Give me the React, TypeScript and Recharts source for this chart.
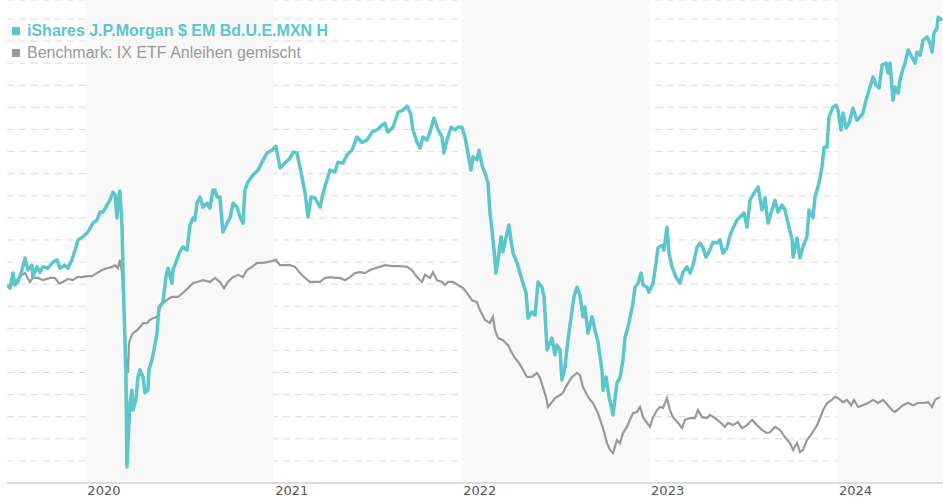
import React from 'react';
import {
  LineChart,
  Line,
  XAxis,
  YAxis,
  CartesianGrid,
  ReferenceArea,
} from 'recharts';

// Performance in % since start, dates as decimal years
const fundDates = [
  2019.583, 2019.599, 2019.615, 2019.625, 2019.641, 2019.663, 2019.679, 2019.695, 2019.716, 2019.721,
  2019.742, 2019.758, 2019.774, 2019.801, 2019.828, 2019.849, 2019.865, 2019.891, 2019.907, 2019.929,
  2019.945, 2019.961, 2019.987, 2020.014, 2020.04, 2020.062, 2020.078, 2020.094, 2020.115, 2020.131,
  2020.147, 2020.158, 2020.168, 2020.173, 2020.184, 2020.195, 2020.205, 2020.216, 2020.221, 2020.237,
  2020.248, 2020.253, 2020.269, 2020.28, 2020.291, 2020.307, 2020.317, 2020.333, 2020.338, 2020.354,
  2020.365, 2020.381, 2020.392, 2020.413, 2020.429, 2020.44, 2020.461, 2020.466, 2020.487, 2020.503,
  2020.519, 2020.541, 2020.557, 2020.573, 2020.583, 2020.594, 2020.61, 2020.626, 2020.647, 2020.663,
  2020.679, 2020.69, 2020.7, 2020.716, 2020.732, 2020.754, 2020.77, 2020.786, 2020.807, 2020.823,
  2020.839, 2020.849, 2020.865, 2020.892, 2020.919, 2020.94, 2020.967, 2020.993, 2021.014, 2021.036,
  2021.062, 2021.089, 2021.105, 2021.126, 2021.153, 2021.169, 2021.185, 2021.201, 2021.222, 2021.249,
  2021.265, 2021.286, 2021.302, 2021.328, 2021.344, 2021.371, 2021.392, 2021.419, 2021.445, 2021.472,
  2021.499, 2021.525, 2021.552, 2021.579, 2021.594, 2021.61, 2021.637, 2021.664, 2021.69, 2021.712,
  2021.733, 2021.743, 2021.765, 2021.781, 2021.797, 2021.818, 2021.834, 2021.855, 2021.877, 2021.898,
  2021.908, 2021.924, 2021.946, 2021.967, 2021.983, 2022.004, 2022.02, 2022.036, 2022.052, 2022.063,
  2022.084, 2022.095, 2022.111, 2022.127, 2022.143, 2022.153, 2022.164, 2022.175, 2022.185, 2022.196,
  2022.212, 2022.222, 2022.244, 2022.254, 2022.265, 2022.276, 2022.297, 2022.313, 2022.329, 2022.345,
  2022.356, 2022.377, 2022.393, 2022.409, 2022.43, 2022.441, 2022.457, 2022.473, 2022.483, 2022.499,
  2022.51, 2022.526, 2022.536, 2022.552, 2022.568, 2022.59, 2022.6, 2022.616, 2022.632, 2022.648,
  2022.659, 2022.675, 2022.696, 2022.712, 2022.728, 2022.749, 2022.755, 2022.771, 2022.787, 2022.808,
  2022.829, 2022.845, 2022.861, 2022.872, 2022.888, 2022.904, 2022.914, 2022.925, 2022.941, 2022.957,
  2022.968, 2022.989, 2022.999, 2023.021, 2023.037, 2023.047, 2023.069, 2023.079, 2023.095, 2023.106,
  2023.122, 2023.143, 2023.164, 2023.18, 2023.202, 2023.218, 2023.234, 2023.255, 2023.271, 2023.287,
  2023.303, 2023.319, 2023.34, 2023.361, 2023.377, 2023.393, 2023.415, 2023.431, 2023.447, 2023.468,
  2023.484, 2023.505, 2023.521, 2023.537, 2023.558, 2023.58, 2023.601, 2023.617, 2023.633, 2023.654,
  2023.67, 2023.686, 2023.707, 2023.723, 2023.739, 2023.761, 2023.766, 2023.787, 2023.803, 2023.819,
  2023.84, 2023.851, 2023.872, 2023.883, 2023.904, 2023.92, 2023.931, 2023.947, 2023.957, 2023.979,
  2023.995, 2024.005, 2024.021, 2024.032, 2024.048, 2024.064, 2024.085, 2024.106, 2024.122, 2024.138,
  2024.154, 2024.17, 2024.192, 2024.208, 2024.224, 2024.24, 2024.261, 2024.271, 2024.282, 2024.298,
  2024.309, 2024.325, 2024.335, 2024.346, 2024.362, 2024.378, 2024.399, 2024.415, 2024.426, 2024.442,
  2024.458, 2024.479, 2024.495, 2024.506, 2024.516, 2024.532, 2024.538, 2024.559,
];

const fundValues = [
  -0.2, -0.9, 2.5, -0.2, 0.5, 3.2, 5.9, 3.2, 4.3, 1.6,
  3.9, 2.7, 3.9, 3.6, 5.0, 5.5, 3.6, 4.3, 3.6, 5.5,
  7.7, 10.0, 10.7, 11.8, 13.8, 14.5, 16.3, 16.3, 17.9, 19.0,
  20.8, 20.2, 15.0, 18.6, 21.1, 12.9, -4.3, -21.0, -41.4, -26.9,
  -24.0, -28.5, -26.2, -21.0, -19.4, -21.0, -24.6, -24.0, -19.4, -17.2,
  -14.9, -11.1, -5.2, -4.1, 1.6, 3.6, 0.2, 3.2, 5.5, 7.3,
  8.4, 7.7, 13.4, 15.0, 14.5, 18.3, 19.7, 17.4, 18.3, 17.2,
  21.3, 21.3, 19.7, 19.7, 11.8, 13.8, 15.0, 18.3, 17.4, 15.2,
  13.8, 21.3, 23.1, 24.7, 25.8, 27.6, 29.7, 30.3, 31.2, 26.3,
  27.4, 28.5, 29.9, 29.7, 24.2, 20.6, 15.2, 19.7, 19.5, 17.4,
  20.6, 23.6, 25.8, 25.4, 27.6, 27.4, 29.2, 30.3, 33.3, 32.1,
  32.6, 34.4, 34.9, 36.0, 36.4, 34.4, 35.5, 38.9, 39.4, 40.3,
  38.3, 34.9, 32.1, 30.8, 33.3, 32.6, 34.4, 37.6, 34.9, 33.3,
  29.7, 32.6, 35.5, 34.9, 35.5, 35.5, 33.3, 29.7, 25.8, 28.8,
  28.1, 30.3, 26.9, 25.1, 22.9, 16.1, 12.2, 7.7, 2.5, 5.5,
  10.7, 7.3, 11.6, 13.4, 10.0, 7.0, 4.8, 2.5, 0.2, -2.0,
  -7.7, -6.3, -7.0, 0.5, -0.7, -2.9, -14.9, -13.3, -12.2, -16.0,
  -13.8, -14.9, -21.7, -18.8, -12.7, -5.9, -2.9, -0.7, -2.5, -7.4,
  -5.2, -11.1, -7.4, -10.4, -13.1, -19.4, -24.0, -21.0, -25.5, -29.6,
  -22.4, -21.2, -17.2, -12.0, -9.7, -6.5, -4.3, -0.7, 0.2, 2.5,
  -0.2, -0.7, -1.8, 0.2, 4.8, 8.2, 8.8, 7.7, 12.9, 7.0,
  3.9, 1.6, 0.2, 2.7, 3.9, 2.5, 4.3, 8.4, 9.3, 8.2,
  6.1, 7.3, 9.5, 9.3, 10.0, 7.0, 8.2, 11.1, 12.7, 14.5,
  15.2, 16.1, 12.9, 19.0, 20.6, 22.0, 16.8, 19.5, 13.8, 16.8,
  19.0, 16.3, 17.9, 16.8, 13.8, 10.0, 6.1, 10.4, 5.9, 8.4,
  10.7, 16.8, 15.0, 19.7, 22.9, 26.5, 31.0, 31.0, 37.8, 40.1,
  40.5, 39.4, 34.9, 38.7, 35.3, 36.4, 39.8, 37.1, 37.8, 38.7,
  41.6, 43.9, 46.9, 45.0, 44.4, 49.6, 50.0, 47.8, 50.0, 41.6,
  44.6, 43.2, 46.2, 48.0, 50.0, 53.0, 51.4, 50.0, 52.5, 51.8,
  55.2, 55.9, 54.5, 52.5, 56.8, 57.9, 60.4, 59.7,
];

const benchDates = [
  2019.583, 2019.609, 2019.636, 2019.663, 2019.679, 2019.705, 2019.721, 2019.748, 2019.774, 2019.812,
  2019.838, 2019.86, 2019.881, 2019.907, 2019.934, 2019.955, 2019.982, 2020.009, 2020.035, 2020.062,
  2020.088, 2020.115, 2020.142, 2020.158, 2020.173, 2020.184, 2020.195, 2020.205, 2020.216, 2020.227,
  2020.232, 2020.243, 2020.253, 2020.275, 2020.291, 2020.307, 2020.328, 2020.344, 2020.36, 2020.381,
  2020.397, 2020.413, 2020.434, 2020.45, 2020.466, 2020.493, 2020.519, 2020.546, 2020.573, 2020.594,
  2020.626, 2020.663, 2020.69, 2020.716, 2020.738, 2020.759, 2020.786, 2020.812, 2020.839, 2020.86,
  2020.887, 2020.913, 2020.94, 2020.967, 2020.993, 2021.014, 2021.036, 2021.062, 2021.089, 2021.116,
  2021.142, 2021.169, 2021.195, 2021.222, 2021.249, 2021.275, 2021.302, 2021.328, 2021.355, 2021.382,
  2021.408, 2021.435, 2021.461, 2021.488, 2021.515, 2021.541, 2021.568, 2021.594, 2021.637, 2021.674,
  2021.712, 2021.738, 2021.765, 2021.791, 2021.807, 2021.834, 2021.85, 2021.871, 2021.898, 2021.914,
  2021.93, 2021.956, 2021.983, 2022.01, 2022.031, 2022.057, 2022.084, 2022.1, 2022.127, 2022.153,
  2022.169, 2022.18, 2022.196, 2022.222, 2022.249, 2022.27, 2022.286, 2022.308, 2022.329, 2022.35,
  2022.377, 2022.403, 2022.419, 2022.435, 2022.451, 2022.462, 2022.483, 2022.499, 2022.526, 2022.542,
  2022.563, 2022.59, 2022.616, 2022.632, 2022.648, 2022.675, 2022.701, 2022.728, 2022.755, 2022.776,
  2022.792, 2022.808, 2022.829, 2022.845, 2022.861, 2022.882, 2022.898, 2022.914, 2022.936, 2022.952,
  2022.968, 2022.989, 2023.005, 2023.021, 2023.042, 2023.058, 2023.074, 2023.095, 2023.111, 2023.127,
  2023.154, 2023.175, 2023.191, 2023.218, 2023.244, 2023.26, 2023.282, 2023.308, 2023.324, 2023.351,
  2023.377, 2023.404, 2023.42, 2023.447, 2023.473, 2023.494, 2023.521, 2023.548, 2023.574, 2023.601,
  2023.627, 2023.643, 2023.67, 2023.697, 2023.723, 2023.75, 2023.766, 2023.787, 2023.803, 2023.819,
  2023.84, 2023.867, 2023.894, 2023.91, 2023.926, 2023.947, 2023.973, 2023.989, 2024.005, 2024.032,
  2024.053, 2024.075, 2024.09, 2024.112, 2024.138, 2024.165, 2024.192, 2024.218, 2024.245, 2024.271,
  2024.293, 2024.309, 2024.335, 2024.351, 2024.378, 2024.405, 2024.431, 2024.458, 2024.484, 2024.506,
  2024.522, 2024.548,
];

const benchValues = [
  -0.7, -0.2, 0.9, 2.1, 2.5, 0.5, 1.4, 1.4, 0.9, 1.4,
  1.4, 0.2, 0.5, 1.2, 0.9, 1.6, 1.6, 1.8, 1.8, 2.5,
  3.2, 3.6, 3.9, 4.3, 3.6, 5.5, 2.5, -5.9, -16.5, -20.1,
  -13.3, -12.0, -11.1, -10.4, -9.7, -8.8, -8.8, -8.1, -7.7, -7.4,
  -5.4, -4.3, -3.6, -3.1, -2.9, -2.9, -2.0, -0.9, 0.2, 0.5,
  0.9, 0.5, 1.4, 0.5, -0.9, 0.5, 1.6, 2.1, 1.6, 3.2,
  3.9, 4.8, 4.8, 5.0, 5.2, 5.5, 4.3, 4.3, 4.3, 3.9,
  2.5, 1.4, 0.5, 0.5, 0.5, 1.4, 1.6, 1.4, 1.4, 0.9,
  1.6, 2.5, 2.7, 2.5, 3.2, 3.6, 3.9, 4.3, 4.1, 4.1,
  3.9, 3.2, 1.6, 0.5, 2.1, 1.4, 2.7, 0.9, 0.5, -0.2,
  0.5, 0.5, -0.2, -0.9, -2.0, -3.6, -4.1, -5.9, -8.1, -8.8,
  -7.4, -10.4, -12.2, -12.7, -13.8, -15.6, -16.7, -17.9, -19.4, -21.0,
  -21.0, -20.1, -21.2, -23.3, -25.5, -27.8, -26.7, -25.8, -25.1, -24.6,
  -22.8, -21.0, -20.1, -20.6, -23.3, -25.5, -26.9, -29.2, -32.6, -36.0,
  -37.5, -38.2, -35.3, -36.0, -33.7, -32.3, -30.7, -29.2, -28.9, -27.8,
  -30.1, -31.4, -32.3, -30.1, -28.5, -27.8, -28.0, -25.8, -28.5, -30.1,
  -31.4, -32.6, -30.7, -30.3, -30.3, -28.5, -30.1, -30.3, -29.6, -30.3,
  -31.2, -32.3, -31.4, -31.9, -31.2, -32.6, -31.9, -30.7, -31.9, -33.0,
  -33.7, -33.5, -32.3, -33.0, -34.6, -36.0, -37.5, -36.0, -38.0, -37.5,
  -35.3, -33.7, -31.9, -30.3, -28.5, -26.9, -26.2, -25.5, -25.8, -26.7,
  -26.2, -27.4, -26.2, -27.8, -27.4, -26.9, -26.2, -26.9, -26.2, -27.4,
  -28.5, -28.9, -28.0, -27.4, -26.9, -27.4, -26.9, -26.9, -26.7, -27.8,
  -26.2, -25.5,
];

const yearTicks = [2020, 2021, 2022, 2023, 2024];
const shadedYears = [[2020, 2021], [2022, 2023], [2024, 2024.564]];
const gridValues = [-45, -40, -35, -30, -25, -20, -15, -10, -5, 0, 5, 10, 15, 20, 25, 30, 35, 40, 45, 50, 55, 60];

const FUND_NAME = 'iShares J.P.Morgan $ EM Bd.U.E.MXN H';
const BENCH_NAME = 'Benchmark: IX ETF Anleihen gemischt';
const FUND_COLOR = '#5cc6cd';
const BENCH_COLOR = '#999999';

const fundData = fundDates.map((t, i) => ({ t, v: fundValues[i] }));
const benchData = benchDates.map((t, i) => ({ t, v: benchValues[i] }));

const YearTick = ({ x, y, payload }: any) => (
  <text
    x={x + 2}
    y={y + 12}
    textAnchor="start"
    fill="#555"
    fontSize={13}
    fontFamily="'DejaVu Sans', sans-serif"
  >
    {payload.value}
  </text>
);

export default function App() {
  return (
    <div style={{ position: 'absolute', left: 0, top: 0, width: 943, height: 500, background: '#fff' }}>
      <LineChart
        width={943}
        height={500}
        margin={{ top: 0, right: 0, bottom: 0, left: 7 }}
      >
        {shadedYears.map(([a, b], i) => (
          <ReferenceArea key={i} x1={a} x2={b} y1={-45} y2={64.3} fill="#f8f8f8" fillOpacity={1} stroke="none" ifOverflow="hidden" />
        ))}
        <CartesianGrid vertical={false} stroke="#dcdcdc" strokeDasharray="7 5" />
        <XAxis
          type="number"
          dataKey="t"
          domain={[2019.583, 2024.564]}
          ticks={yearTicks}
          tick={<YearTick />}
          tickLine={false}
          tickSize={0}
          tickMargin={0}
          height={17}
          axisLine={{ stroke: '#dddddd', strokeWidth: 2 }}
          allowDataOverflow
        />
        <YAxis hide type="number" domain={[-45, 64.3]} ticks={gridValues} interval={0} allowDataOverflow />
        <Line
          data={benchData}
          dataKey="v"
          type="linear"
          stroke={BENCH_COLOR}
          strokeWidth={2.2}
          dot={false}
          isAnimationActive={false}
        />
        <Line
          data={fundData}
          dataKey="v"
          type="linear"
          stroke={FUND_COLOR}
          strokeWidth={3.5}
          strokeLinejoin="round"
          dot={false}
          isAnimationActive={false}
        />
      </LineChart>

      {/* legend */}
      <div style={{ position: 'absolute', left: 12, top: 20, fontFamily: "'Liberation Sans', Arial, sans-serif", fontSize: 16, lineHeight: '22px' }}>
        <div style={{ display: 'flex', alignItems: 'center', color: FUND_COLOR, fontWeight: 700 }}>
          <span style={{ width: 8, height: 8, background: FUND_COLOR, marginRight: 7, display: 'inline-block' }} />
          {FUND_NAME}
        </div>
        <div style={{ display: 'flex', alignItems: 'center', color: BENCH_COLOR }}>
          <span style={{ width: 8, height: 8, background: BENCH_COLOR, marginRight: 7, display: 'inline-block' }} />
          {BENCH_NAME}
        </div>
      </div>
    </div>
  );
}
